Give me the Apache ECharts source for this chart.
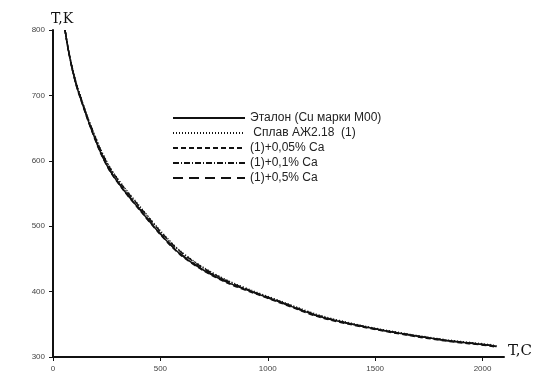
<!DOCTYPE html>
<html>
<head>
<meta charset="utf-8">
<script src="https://cdn.jsdelivr.net/npm/echarts@6/dist/echarts.min.js"></script>
<style>
  html, body { margin: 0; padding: 0; background: #fff; }
  #chart { width: 541px; height: 383px; }
</style>
</head>
<body>
<div id="chart"></div>
<script>
// temperature, C
const temps = [56, 70, 90, 110, 135, 160, 180, 220, 265, 330, 405, 500, 590, 700, 820, 940, 1056, 1240, 1440, 1637, 1840, 2033, 2065]
// T, K
const etalon = [800, 772, 740, 714, 689, 665, 647, 614, 585, 555, 525, 488, 458, 433, 413, 398, 384, 362, 347, 335, 325, 318, 316]
const splav = [800, 773, 742, 717, 692, 668, 651, 619, 590, 560, 530, 493, 463, 437, 416, 400, 386, 364, 348, 336, 326, 319, 317]
const ca005 = [800, 771, 739, 713, 688, 664, 646, 613, 584, 554, 524, 487, 457, 432, 412, 397, 383, 361, 346, 334, 324, 317, 315]
const ca01 = [800, 773, 741, 716, 691, 667, 650, 618, 589, 559, 529, 492, 462, 436, 415, 399, 385, 363, 347, 335, 325, 318, 316]
const ca05 = [800, 772, 740, 715, 690, 666, 648, 615, 586, 556, 526, 489, 459, 434, 414, 398, 384, 362, 347, 335, 325, 318, 316]

const names = ['Эталон (Cu марки М00)', ' Сплав АЖ2.18  (1)', '(1)+0,05% Ca', '(1)+0,1% Ca', '(1)+0,5% Ca']
const xTicks = [0, 500, 1000, 1500, 2000]

const chart = echarts.init(document.getElementById('chart'))

function pairs(vals) {
  return temps.map((t, i) => [t, vals[i]])
}

function line(name, vals, type) {
  return {
    name: name,
    type: 'line',
    data: pairs(vals),
    smooth: 0.3,
    symbol: 'none',
    lineStyle: { color: '#111', width: 1.5, type: type }
  }
}

const option = {
  animation: false,
  backgroundColor: '#fff',
  grid: { left: 53, right: 37, top: 30, bottom: 26 },
  xAxis: {
    type: 'value',
    min: 0,
    max: 2100,
    interval: 500,
    name: 'T,C',
    nameLocation: 'end',
    nameGap: 4,
    nameTextStyle: { fontFamily: 'DejaVu Serif', fontSize: 15, color: '#111', verticalAlign: 'bottom', padding: [0, 0, -2, 0] },
    axisLine: { lineStyle: { color: '#111', width: 2 } },
    axisTick: { length: 4, lineStyle: { color: '#111' }, customValues: xTicks },
    axisLabel: { customValues: xTicks, fontSize: 8, color: '#444', margin: 8, fontFamily: 'Liberation Sans', formatter: v => String(v) },
    splitLine: { show: false }
  },
  yAxis: {
    type: 'value',
    min: 300,
    max: 800,
    interval: 100,
    name: 'T,K',
    nameLocation: 'end',
    nameGap: 4,
    nameTextStyle: { fontFamily: 'DejaVu Serif', fontSize: 14, color: '#111', align: 'left', padding: [0, 0, 0, -2] },
    axisLine: { show: true, lineStyle: { color: '#111', width: 2 } },
    axisTick: { show: true, length: 4, lineStyle: { color: '#111' } },
    axisLabel: { fontSize: 8, color: '#444', margin: 8, fontFamily: 'Liberation Sans' },
    splitLine: { show: false }
  },
  legend: {
    orient: 'vertical',
    left: 167,
    top: 106,
    itemWidth: 72,
    itemHeight: 10,
    itemGap: 1,
    itemStyle: { opacity: 0 },
    textStyle: { fontFamily: 'Liberation Sans', fontSize: 12, color: '#222', lineHeight: 14 },
    data: names
  },
  series: [
    line(names[0], etalon, 'solid'),
    line(names[1], splav, [1, 2]),
    line(names[2], ca005, [5, 3]),
    line(names[3], ca01, [6, 2, 1, 2]),
    line(names[4], ca05, [10, 6])
  ]
}

chart.setOption(option)
</script>
</body>
</html>
